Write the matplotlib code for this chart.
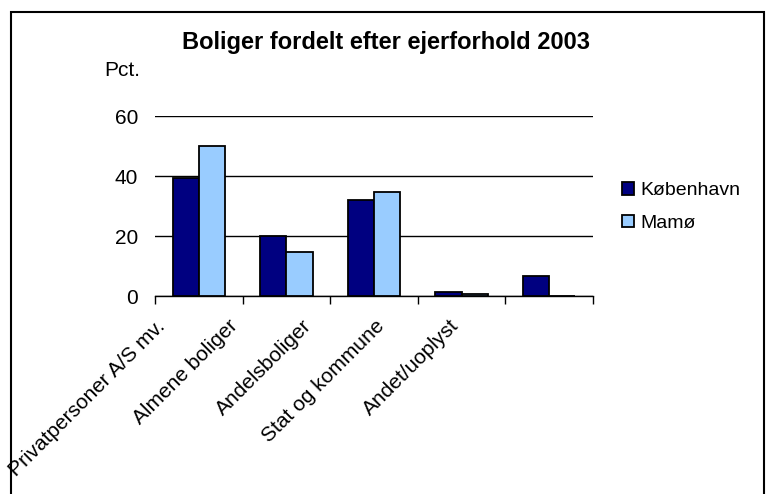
import numpy as np
import matplotlib.pyplot as plt
from matplotlib.patches import Rectangle
from matplotlib.transforms import ScaledTranslation

plt.rcParams['font.family'] = ['Liberation Sans', 'DejaVu Sans']

categories = ["Privatpersoner A/S mv.", "Almene boliger", "Andelsboliger",
              "Stat og kommune", "Andet/uoplyst"]
kbh = [39.4, 20.1, 32.0, 1.3, 6.8]
malmo = [50.1, 14.7, 34.8, 0.8, 0.0]
series_names = ["København", "Mamø"]
yticks = [0, 20, 40, 60]

fig = plt.figure(figsize=(7.7, 4.94), dpi=100)
ax = fig.add_axes([155/770, 1-296/494, 438/770, 180/494])

x = np.arange(len(categories))
w = 0.3
ax.bar(x - w/2, kbh, w, color="#000080", edgecolor="black", linewidth=1.3,
       label=series_names[0], zorder=3)
ax.bar(x + w/2, malmo, w, color="#99CCFF", edgecolor="black", linewidth=1.3,
       label=series_names[1], zorder=3)

ax.set_xlim(-0.5, len(categories) - 0.5)
ax.set_ylim(0, 60)
ax.set_yticks(yticks)
ax.yaxis.grid(True, color="black", linewidth=1)
ax.tick_params(axis="y", length=0, pad=12, labelsize=15)
for s in ["top", "right", "left"]:
    ax.spines[s].set_visible(False)
ax.spines["bottom"].set_linewidth(1)

# ticks between categories, labels set separately
ax.set_xticks(np.arange(-0.5, len(categories)), minor=True)
ax.tick_params(axis="x", which="minor", length=6, width=1, direction="out")
ax.set_xticks(x)
ax.set_xticklabels(categories, rotation=45, ha="right", va="center",
                   rotation_mode="anchor", fontsize=15)
ax.tick_params(axis="x", which="major", length=0, pad=0)
for i, lab in enumerate(ax.get_xticklabels()):
    dx = -(37 + 14.2 * i) / 100
    lab.set_transform(lab.get_transform() + ScaledTranslation(dx, -0.27, fig.dpi_scale_trans))

ax.text(-0.075, 1.25, "Pct.", transform=ax.transAxes, ha="center", va="center", fontsize=15)
fig.text(0.501, 1 - 43/494, "Boliger fordelt efter ejerforhold 2003",
         ha="center", va="center", fontsize=17, fontweight="bold")

fig.legend(loc="center left", bbox_to_anchor=(622/770, 1 - 207/494), frameon=False,
           fontsize=14, handlelength=0.62, handleheight=0.62, handletextpad=0.3,
           labelspacing=0.8, borderpad=0, borderaxespad=0)

fig.patches.append(Rectangle((11/770, -0.1), 753/770, 1.1 - 12/494,
                             transform=fig.transFigure, fill=False,
                             edgecolor="black", linewidth=1.5))

fig.savefig("out.png", dpi=100)
